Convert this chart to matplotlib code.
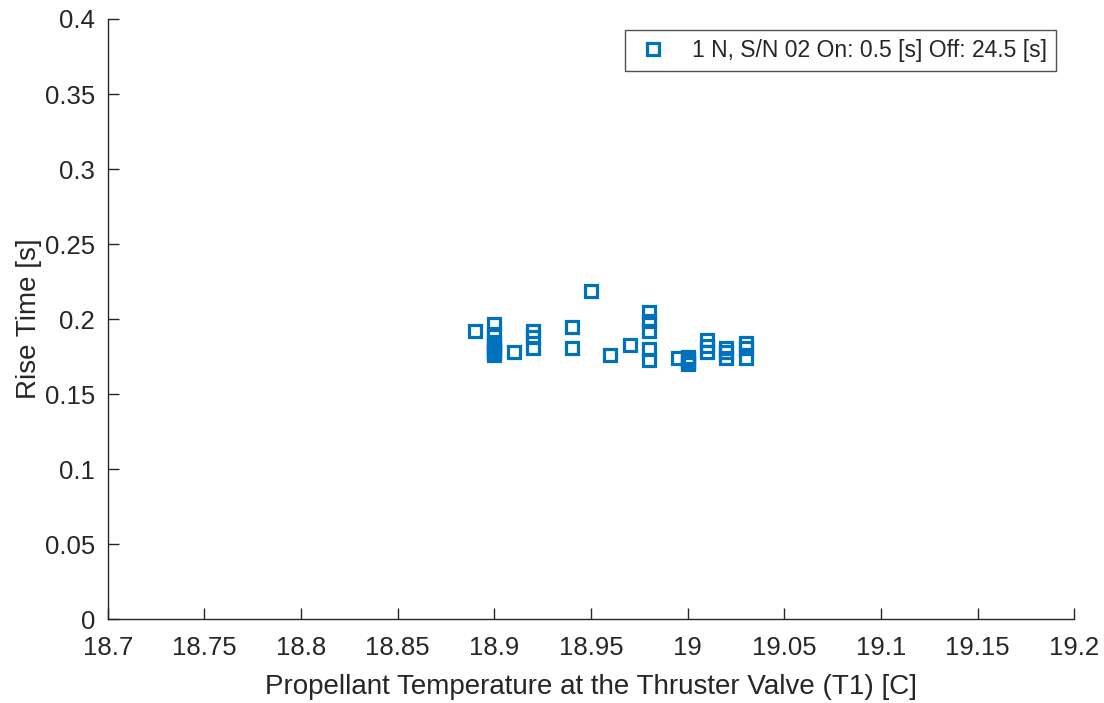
import matplotlib.pyplot as plt

# propellant temperature at thruster valve T1 [C] and rise time [s]
temp = [18.89,
        18.90, 18.90, 18.90, 18.90, 18.90, 18.90, 18.90, 18.90,
        18.91,
        18.92, 18.92, 18.92,
        18.94, 18.94,
        18.95,
        18.96,
        18.97,
        18.98, 18.98, 18.98, 18.98, 18.98,
        18.995,
        19.00, 19.00, 19.00, 19.00,
        19.01, 19.01, 19.01,
        19.02, 19.02, 19.02,
        19.03, 19.03, 19.03]
rise = [0.192,
        0.197, 0.190, 0.185, 0.183, 0.181, 0.179, 0.178, 0.176,
        0.178,
        0.192, 0.188, 0.181,
        0.195, 0.181,
        0.219,
        0.176,
        0.183,
        0.205, 0.199, 0.192, 0.180, 0.173,
        0.174,
        0.175, 0.173, 0.171, 0.170,
        0.186, 0.182, 0.178,
        0.181, 0.178, 0.174,
        0.184, 0.181, 0.174]

label = '1 N, S/N 02 On: 0.5 [s] Off: 24.5 [s]'

plt.rcParams['font.family'] = ['Liberation Sans', 'DejaVu Sans']
gray = '#262626'

fig = plt.figure(figsize=(11.04, 7.03), dpi=100)
ax = fig.add_axes([0.0975, 0.119, 0.8755, 0.854])

ax.plot(temp, rise, linestyle='none', marker='s', markersize=9,
        markerfacecolor='none', markeredgecolor='#0072BD',
        markeredgewidth=2.3, label=label)

ax.set_xlim(18.7, 19.2)
ax.set_ylim(0, 0.4)
ax.set_xticks([18.7, 18.75, 18.8, 18.85, 18.9, 18.95, 19.0, 19.05, 19.1, 19.15, 19.2])
ax.set_xticklabels(['18.7', '18.75', '18.8', '18.85', '18.9', '18.95', '19',
                    '19.05', '19.1', '19.15', '19.2'])
ax.set_yticks([0, 0.05, 0.1, 0.15, 0.2, 0.25, 0.3, 0.35, 0.4])
ax.set_yticklabels(['0', '0.05', '0.1', '0.15', '0.2', '0.25', '0.3', '0.35', '0.4'])

for s in ['top', 'right']:
    ax.spines[s].set_visible(False)
for s in ['left', 'bottom']:
    ax.spines[s].set_color(gray)
    ax.spines[s].set_linewidth(1.0)

ax.tick_params(direction='in', length=8, width=1.0, colors=gray,
               labelsize=18.5)
ax.tick_params(axis='x', pad=12)
ax.tick_params(axis='y', pad=9)
ax.set_xlabel('Propellant Temperature at the Thruster Valve (T1) [C]',
              fontsize=20, color=gray, labelpad=10)
ax.set_ylabel('Rise Time [s]', fontsize=20, color=gray, labelpad=2)

leg = ax.legend(loc='upper right', fontsize=16.5, frameon=True, fancybox=False,
                edgecolor=gray, borderaxespad=0, handletextpad=0.9,
                handlelength=1.6, borderpad=0.4,
                bbox_to_anchor=(0.981, 0.982))
leg.get_frame().set_linewidth(1.0)
for t in leg.get_texts():
    t.set_color(gray)

fig.savefig('out.png', dpi=100)
